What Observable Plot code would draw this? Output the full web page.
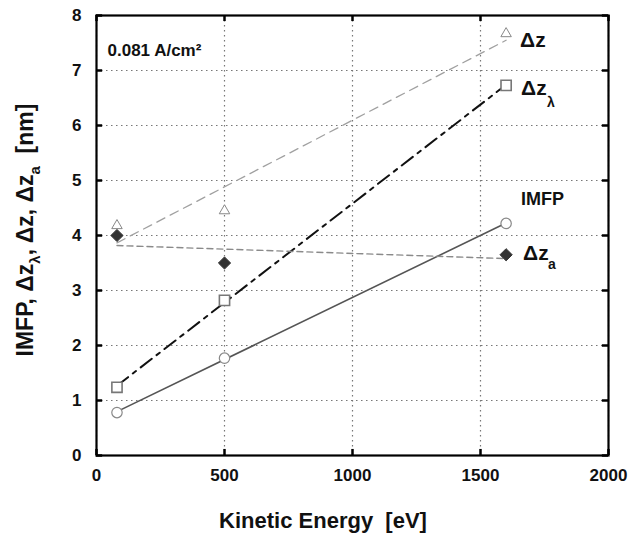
<!DOCTYPE html>
<html>
<head>
<meta charset="utf-8">
<script src="https://cdn.jsdelivr.net/npm/d3@7"></script>
<script src="https://cdn.jsdelivr.net/npm/@observablehq/plot@0.6"></script>
<style>
  html, body { margin: 0; padding: 0; background: #fff; }
  #chart { width: 640px; height: 536px; }
</style>
</head>
<body>
<div id="chart"></div>
<script>
// ---- data ----
const energies = [80, 500, 1600];          // Kinetic energy [eV]
const imfp     = [0.78, 1.77, 4.22];       // IMFP [nm]
const dzLambda = [1.24, 2.82, 6.73];       // Δz_λ [nm]
const dz       = [4.18, 4.45, 7.67];       // Δz [nm]
const dzA      = [4.00, 3.50, 3.65];       // Δz_a [nm]
const xTicks   = [0, 500, 1000, 1500, 2000];
const yTicks   = [0, 1, 2, 3, 4, 5, 6, 7, 8];
const xTitle   = "Kinetic Energy  [eV]";
const note     = "0.081 A/cm²";

const toRows = (vals) => energies.map((e, i) => ({x: e, y: vals[i]}));
const rowsImfp = toRows(imfp);
const rowsDzL = toRows(dzLambda);
const rowsDz = toRows(dz);
const rowsDzA = toRows(dzA);
const last = (rows) => [rows[rows.length - 1]];

const font = "Liberation Sans, Arial, Helvetica, sans-serif";

const chart = Plot.plot({
  width: 640,
  height: 536,
  marginLeft: 96,
  marginRight: 32,
  marginTop: 15,
  marginBottom: 81,
  style: {fontFamily: font, fontWeight: "bold", fontSize: "16px", background: "#fff", color: "#111"},
  x: {domain: [0, 2000]},
  y: {domain: [0, 8]},
  marks: [
    Plot.gridX(xTicks, {stroke: "#777", strokeOpacity: 1, strokeDasharray: "1.5,3.5", strokeWidth: 1.2}),
    Plot.gridY(yTicks, {stroke: "#777", strokeOpacity: 1, strokeDasharray: "1.5,3.5", strokeWidth: 1.2}),
    // fitted lines
    Plot.linearRegressionY(rowsDz, {x: "x", y: "y", ci: 0, stroke: "#a0a0a0", strokeWidth: 1.3, strokeDasharray: "9,6"}),
    Plot.linearRegressionY(rowsDzL, {x: "x", y: "y", ci: 0, stroke: "#111", strokeWidth: 2, strokeDasharray: "14,6,4,6"}),
    Plot.linearRegressionY(rowsImfp, {x: "x", y: "y", ci: 0, stroke: "#555", strokeWidth: 1.6}),
    Plot.linearRegressionY(rowsDzA, {x: "x", y: "y", ci: 0, stroke: "#8a8a8a", strokeWidth: 1.4, strokeDasharray: "6,4"}),
    // markers
    Plot.dot(rowsDz, {x: "x", y: "y", symbol: "triangle2", r: 5, stroke: "#888", strokeWidth: 1, fill: "#fff"}),
    Plot.dot(rowsDzL, {x: "x", y: "y", symbol: "square2", r: 6.5, stroke: "#777", strokeWidth: 1.6, fill: "#fff"}),
    Plot.dot(rowsImfp, {x: "x", y: "y", r: 5.2, stroke: "#888", strokeWidth: 1.2, fill: "#fff"}),
    Plot.dot(rowsDzA, {x: "x", y: "y", symbol: "diamond2", r: 5.5, fill: "#333", stroke: "#333", strokeWidth: 1}),
    // frame and inward ticks
    Plot.frame({stroke: "#000", strokeWidth: 2.2}),
    Plot.ruleX(xTicks, {x: d => d, y1: 0, y2: 0.11, stroke: "#000", strokeWidth: 2.5}),
    Plot.ruleX(xTicks, {x: d => d, y1: 7.89, y2: 8, stroke: "#000", strokeWidth: 2.5}),
    Plot.ruleY(yTicks, {y: d => d, x1: 0, x2: 24, stroke: "#000", strokeWidth: 2.5}),
    Plot.ruleY(yTicks, {y: d => d, x1: 1976, x2: 2000, stroke: "#000", strokeWidth: 2.5}),
    // axes (labels only)
    Plot.axisX(xTicks, {tickSize: 0, tickPadding: 13, label: null, tickFormat: d => String(d), fontSize: 17, fontWeight: "bold"}),
    Plot.axisY(yTicks, {tickSize: 0, tickPadding: 15, label: null, tickFormat: d => String(d), fontSize: 17, fontWeight: "bold"}),
    // annotation
    Plot.text([note], {frameAnchor: "top-left", dx: 11, dy: 28, textAnchor: "start", fontSize: 17, fontWeight: "bold", fill: "#111"}),
    // series labels
    Plot.text(last(rowsDz), {x: "x", y: "y", text: () => "Δz", dx: 14, dy: 7, textAnchor: "start", fontSize: 21, fontWeight: "bold", fill: "#111"}),
    Plot.text(last(rowsDzL), {x: "x", y: "y", text: () => "Δz", dx: 15, dy: 3, textAnchor: "start", fontSize: 21, fontWeight: "bold", fill: "#111"}),
    Plot.text(last(rowsDzL), {x: "x", y: "y", text: () => "λ", dx: 41, dy: 17, textAnchor: "start", fontSize: 14, fontWeight: "bold", fill: "#111"}),
    Plot.text(last(rowsImfp), {x: "x", y: "y", text: () => "IMFP", dx: 15, dy: -24, textAnchor: "start", fontSize: 18, fontWeight: "bold", fill: "#111"}),
    Plot.text(last(rowsDzA), {x: "x", y: "y", text: () => "Δz", dx: 17, dy: -1, textAnchor: "start", fontSize: 21, fontWeight: "bold", fill: "#111"}),
    Plot.text(last(rowsDzA), {x: "x", y: "y", text: () => "a", dx: 42, dy: 10, textAnchor: "start", fontSize: 14, fontWeight: "bold", fill: "#111"})
  ]
});

document.getElementById("chart").appendChild(chart);

// axis titles with sub-scripts as real SVG text
const svg = d3.select(chart);
svg.append("text")
  .attr("x", 323).attr("y", 528)
  .attr("text-anchor", "middle")
  .style("font-family", font).style("font-weight", "bold").style("font-size", "22px")
  .style("white-space", "pre").attr("xml:space", "preserve")
  .attr("fill", "#111")
  .text(xTitle);

const yt = svg.append("text")
  .attr("transform", "translate(33,230) rotate(-90)")
  .attr("text-anchor", "middle")
  .attr("xml:space", "preserve")
  .style("font-family", font).style("font-weight", "bold").style("font-size", "23px")
  .style("white-space", "pre")
  .attr("fill", "#111");
const parts = [["IMFP, Δz", 0], ["λ", 1], [", Δz, Δz", 0], ["a", 1], ["  [nm]", 0]];
let shifted = false;
for (const [t, sub] of parts) {
  const ts = yt.append("tspan").text(t);
  if (sub) { ts.attr("dy", 7).style("font-size", "15px"); shifted = true; }
  else if (shifted) { ts.attr("dy", -7); shifted = false; }
}
</script>
</body>
</html>
